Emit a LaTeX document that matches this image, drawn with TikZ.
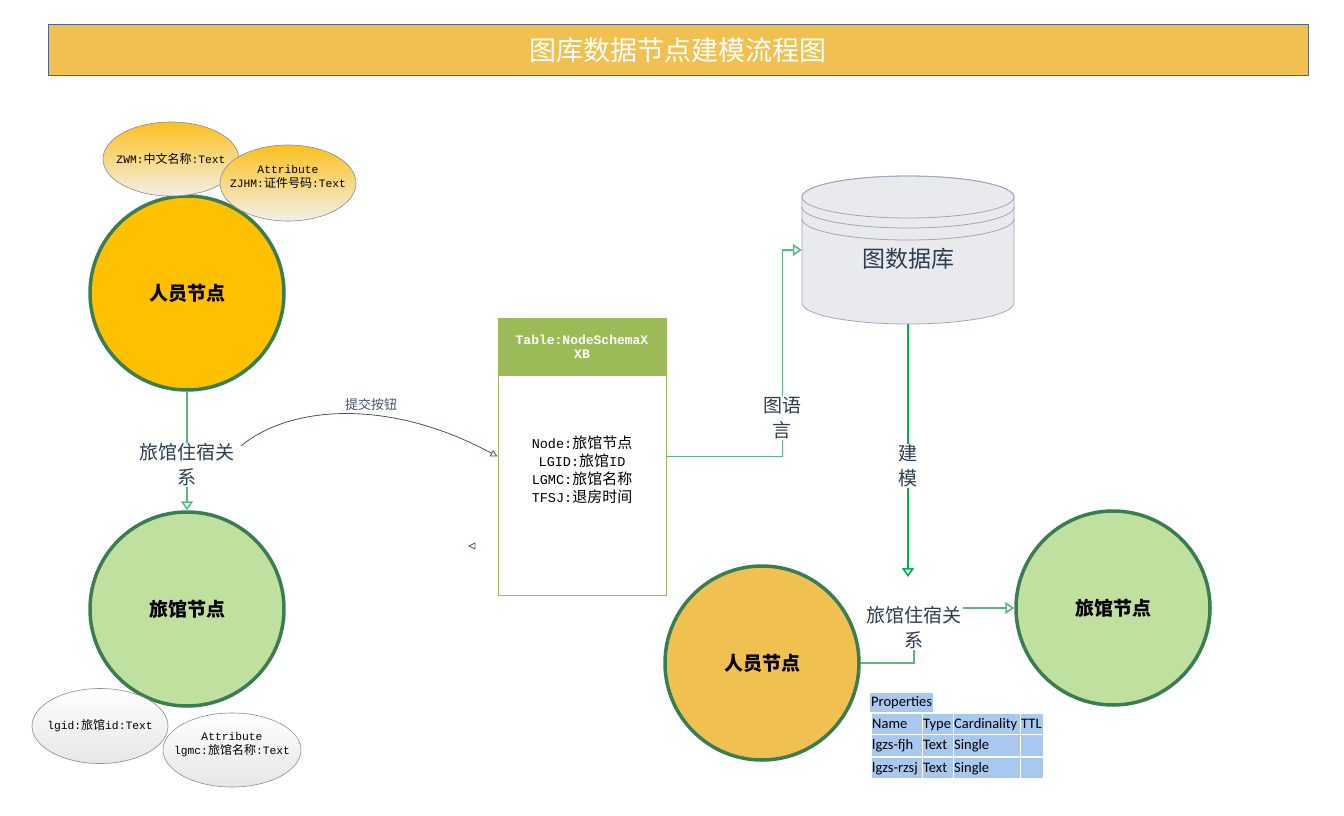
\documentclass[tikz,border=0pt]{standalone}
\usepackage{fontspec}
\setmainfont{Noto Sans CJK SC}
\newfontfamily\cjk{Noto Sans CJK SC}
\newfontfamily\mono{Liberation Mono}
\newfontfamily\carl{Carlito}
\usetikzlibrary{arrows.meta,shapes.geometric,calc}
\definecolor{titlefill}{RGB}{240,193,80}
\definecolor{titleline}{RGB}{79,104,138}
\definecolor{orangeA}{RGB}{255,192,0}
\definecolor{orangeB}{RGB}{240,192,80}
\definecolor{lgreen}{RGB}{192,224,160}
\definecolor{dgreen}{RGB}{58,125,80}
\definecolor{hdr}{RGB}{155,187,89}
\definecolor{dbfill}{RGB}{232,234,238}
\definecolor{dbline}{RGB}{160,168,184}
\definecolor{slate}{RGB}{44,62,80}
\definecolor{curvec}{RGB}{68,84,106}
\definecolor{connc}{RGB}{92,184,128}
\definecolor{connb}{RGB}{0,176,80}
\definecolor{propblue}{RGB}{168,200,240}
\definecolor{elltop}{RGB}{252,192,30}
\definecolor{ellbot}{RGB}{242,240,234}
\definecolor{grayline}{RGB}{140,140,140}
\definecolor{gellbot}{RGB}{230,230,230}
\newcommand{\zh}[2][12]{{\cjk\fontsize{#1}{#1}\selectfont #2}}
\begin{document}
\begin{tikzpicture}[x=1pt,y=-1pt,
  bigc/.style={circle, draw=dgreen, line width=3.5pt, minimum size=194pt, inner sep=0pt,
    font=\bfseries\fontsize{19}{22}\selectfont, text=black},
  yell/.style={ellipse, draw=grayline, line width=0.6pt, top color=elltop, bottom color=ellbot, inner sep=0pt},
  gell/.style={ellipse, draw=grayline, line width=0.6pt, top color=white, bottom color=gellbot, inner sep=0pt},
  etext/.style={align=center, inner sep=0pt, font=\mono\fontsize{11.3}{14}\selectfont, text=black},
  lab/.style={fill=white, inner sep=1pt, align=center, text=slate, font=\fontsize{19}{25}\selectfont},
  gconn/.style={draw=connc, line width=1.8pt},
  bconn/.style={draw=connb, line width=1.8pt},
  gtip/.style={-{Triangle[open,length=9pt,width=12pt,line width=1.6pt]}},
  ptext/.style={anchor=west, inner sep=1pt, text height=10pt, text depth=3pt,
    font=\carl\fontsize{14.5}{16}\selectfont, text=black}
]
\useasboundingbox (0,0) rectangle (1344,816);
\fill[white] (0,0) rectangle (1344,816);

% title
\node[draw=titleline, line width=1pt, fill=titlefill, minimum width=1260pt, minimum height=51pt,
  inner sep=0pt, text=white, font=\fontsize{27}{30}\selectfont] (title) at (678,50.5) {图库数据节点建模流程图};

% circles
\node[bigc, fill=orangeA] (p1) at (187,293) {人员节点};
\node[bigc, fill=lgreen] (g1) at (187,609) {旅馆节点};
\node[bigc, fill=orangeB] (p2) at (762,663) {人员节点};
\node[bigc, fill=lgreen] (g2) at (1113,608) {旅馆节点};

% attribute ellipses
\node[yell, minimum width=136pt, minimum height=74pt] (e1) at (171,159) {};
\node[etext] (e1t) at (e1.center) {ZWM:\zh{中文名称}:Text};
\node[yell, minimum width=136pt, minimum height=76pt] (e2) at (288,183) {};
\node[etext] (e2t) at ($(e2.center)+(0,-6)$) {Attribute\\ZJHM:\zh{证件号码}:Text};
\node[gell, minimum width=136pt, minimum height=75pt] (e3) at (100,726) {};
\node[etext] (e3t) at (e3.center) {lgid:\zh{旅馆}id:Text};
\node[gell, minimum width=138pt, minimum height=74pt] (e4) at (232,750) {};
\node[etext] (e4t) at ($(e4.center)+(0,-5)$) {Attribute\\lgmc:\zh{旅馆名称}:Text};

% left connector
\draw[gconn, gtip] (p1.south) -- (g1.north);
\node[lab] (l1) at (187,465) {旅馆住宿关\\系};

% table
\node[draw=hdr, line width=1pt, minimum width=168pt, minimum height=277pt, inner sep=0pt] (tb) at (582,456.5) {};
\node[fill=hdr, draw=hdr, line width=1pt, minimum width=168pt, minimum height=57pt, inner sep=0pt, anchor=north,
  text=white, font=\mono\bfseries\fontsize{13}{14}\selectfont, align=center] (th) at (tb.north) {Table:NodeSchemaX\\XB};
\node[align=center, inner sep=0pt, font=\mono\fontsize{13.5}{18}\selectfont, text=black] (tbt) at (582,470)
  {Node:\zh[15]{旅馆节点}\\LGID:\zh[15]{旅馆}ID\\LGMC:\zh[15]{旅馆名称}\\TFSJ:\zh[15]{退房时间}};

% curve
\coordinate (cs) at (241,446);
\draw[curvec, line width=0.8pt, -{Triangle[open,length=7pt,width=7pt]}] (cs) .. controls (290,405) and (390,398) .. (tb.west);
\node[text=curvec, inner sep=1pt, font=\fontsize{13}{15}\selectfont] (sub) at (371,405) {提交按钮};
\draw[curvec, line width=0.7pt] (475,543) -- (469,546) -- (475,549) -- cycle;

% cylinder
\path[fill=dbfill, draw=dbline, line width=0.8pt] (802,197) -- (802,303)
  arc[start angle=180, end angle=0, x radius=106, y radius=21] -- (1014,197)
  arc[start angle=0, end angle=-180, x radius=106, y radius=21] -- cycle;
\draw[dbline, line width=0.8pt] (908,197) ellipse[x radius=106, y radius=21];
\draw[dbline, line width=0.8pt] (802,207) arc[start angle=180, end angle=0, x radius=106, y radius=21];
\draw[dbline, line width=0.8pt] (802,219) arc[start angle=180, end angle=0, x radius=106, y radius=21];
\node[minimum width=212pt, minimum height=148pt, inner sep=0pt] (db) at (908,250) {};
\node[text=slate, inner sep=0pt, font=\fontsize{23}{26}\selectfont] (dbt) at (908,259) {图数据库};

% graph language connector
\draw[gconn, gtip] (tb.east) -- ++(116,0) |- (db.west);
\node[lab] (l2) at (782,418) {图语\\言};

% modelling connector
\coordinate (mend) at (908,577);
\draw[bconn, -{Triangle[open,length=9pt,width=12pt,line width=1.6pt]}] (db.south) -- (mend);
\node[lab] (l3) at (908,466) {建\\模};

% right connector
\coordinate (k) at (914,608);
\draw[gconn, gtip] (p2.east) -| (k) -- (g2.west);
\node[lab] (l4) at (914,628) {旅馆住宿关\\系};

% properties table
\fill[propblue] (870,693) rectangle ++(63,19);
\node[ptext] (pr) at (870,703) {Properties};
\fill[propblue] (872,714) rectangle ++(50,20);
\fill[propblue] (923,714) rectangle ++(30,20);
\fill[propblue] (954,714) rectangle ++(66,20);
\fill[propblue] (1021,714) rectangle ++(22,20);
\node[ptext] (h1) at (871,724.5) {Name};
\node[ptext] (h2) at (922,724.5) {Type};
\node[ptext] (h3) at (953,724.5) {Cardinality};
\node[ptext] (h4) at (1020,724.5) {TTL};
\fill[propblue] (872,735) rectangle ++(50,21);
\fill[propblue] (923,735) rectangle ++(30,21);
\fill[propblue] (954,735) rectangle ++(66,21);
\fill[propblue] (1021,735) rectangle ++(22,21);
\node[ptext] (r1a) at (871,746) {lgzs-fjh};
\node[ptext] (r1b) at (922,746) {Text};
\node[ptext] (r1c) at (953,746) {Single};
\fill[propblue] (872,758) rectangle ++(50,20);
\fill[propblue] (923,758) rectangle ++(30,20);
\fill[propblue] (954,758) rectangle ++(66,20);
\fill[propblue] (1021,758) rectangle ++(22,20);
\node[ptext] (r2a) at (871,768.5) {lgzs-rzsj};
\node[ptext] (r2b) at (922,768.5) {Text};
\node[ptext] (r2c) at (953,768.5) {Single};
\end{tikzpicture}
\end{document}
